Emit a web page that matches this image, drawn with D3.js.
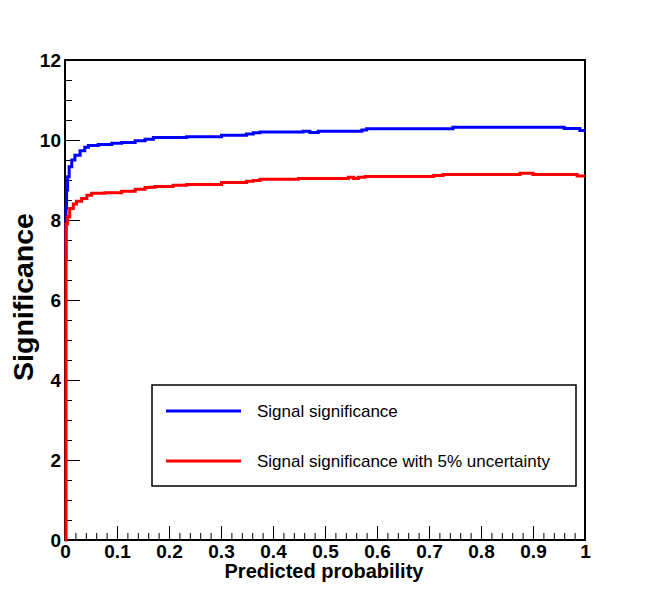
<!DOCTYPE html>
<html>
<head>
<meta charset="utf-8">
<script src="https://cdn.jsdelivr.net/npm/d3@7"></script>
<style>
  body { margin: 0; background: #fff; }
  text { font-family: "Liberation Sans", Arial, sans-serif; }
</style>
</head>
<body>
<div class="js-vis"></div>
<script>
// step levels (x = predicted probability cut, y = significance)
const blueX = [0, 0.002, 0.003, 0.005, 0.008, 0.013, 0.019, 0.029, 0.038, 0.045, 0.064, 0.090, 0.109, 0.135, 0.154, 0.170,
  0.234, 0.301, 0.349, 0.362, 0.375, 0.458, 0.471, 0.487, 0.571, 0.580, 0.746, 0.960, 0.990, 1.0]
const blueY = [7.05, 8.3, 8.75, 9.08, 9.33, 9.5, 9.62, 9.73, 9.82, 9.86, 9.89, 9.92, 9.94, 9.98, 10.02, 10.06,
  10.08, 10.12, 10.15, 10.18, 10.2, 10.22, 10.19, 10.22, 10.25, 10.28, 10.32, 10.29, 10.24, 10.24]

const redX = [0, 0.002, 0.005, 0.009, 0.016, 0.022, 0.032, 0.042, 0.051, 0.077, 0.109, 0.135, 0.154, 0.163, 0.173,
  0.208, 0.234, 0.301, 0.349, 0.362, 0.375, 0.449, 0.545, 0.555, 0.564, 0.577, 0.709, 0.727, 0.875, 0.900, 0.985, 1.0]
const redY = [0, 7.9, 8.08, 8.29, 8.4, 8.47, 8.54, 8.62, 8.67, 8.68, 8.72, 8.77, 8.81, 8.82, 8.84,
  8.87, 8.89, 8.94, 8.97, 8.99, 9.02, 9.04, 9.07, 9.04, 9.07, 9.09, 9.11, 9.14, 9.17, 9.14, 9.10, 9.10]

const legendLabels = ['Signal significance', 'Signal significance with 5% uncertainty']
const colors = ['#0000ff', '#ff0000']

const W = 650, H = 600
const margin = { top: 60, right: 65, bottom: 60, left: 65 },
    width = W - margin.left - margin.right,
    height = H - margin.top - margin.bottom

const svg = d3.select('.js-vis').append('svg')
    .attr('width', W)
    .attr('height', H)

svg.append('rect').attr('width', W).attr('height', H).attr('fill', '#fff')

const vis = svg.append('g')
    .attr('transform', 'translate(' + margin.left + ',' + margin.top + ')')

const x = d3.scaleLinear().domain([0, 1]).range([0, width])
const y = d3.scaleLinear().domain([0, 12]).range([height, 0])

// frame
vis.append('rect')
  .attr('width', width)
  .attr('height', height)
  .attr('fill', 'none')
  .attr('stroke', '#000')
  .attr('stroke-width', 2)

// minor ticks
vis.append('g')
    .attr('transform', 'translate(0,' + height + ')')
    .call(d3.axisBottom(x).tickValues(d3.range(0, 51).map(i => i / 50)).tickSize(-7).tickFormat(''))
vis.append('g')
    .call(d3.axisLeft(y).tickValues(d3.range(0, 25).map(i => i / 2)).tickSize(-7).tickFormat(''))

// major ticks + labels
const xax = d3.axisBottom(x)
    .tickValues(d3.range(0, 11).map(i => i / 10))
    .tickSize(-14).tickPadding(5)
    .tickFormat(d => d === 0 ? '0' : d === 1 ? '1' : d3.format('.1f')(d))
const yax = d3.axisLeft(y)
    .tickValues([0, 2, 4, 6, 8, 10, 12])
    .tickSize(-15).tickPadding(4)

vis.append('g').attr('transform', 'translate(0,' + height + ')').call(xax)
vis.append('g').call(yax)

vis.selectAll('.domain').remove()
vis.selectAll('.tick line').attr('stroke', '#000').attr('stroke-width', 1)
vis.selectAll('.tick text')
  .attr('fill', '#000')
  .style('font-size', '19px')
  .style('font-weight', 'bold')
  .style('font-family', '"Liberation Sans", Arial, sans-serif')

// curves
const line = d3.line()
    .x(d => x(d[0]))
    .y(d => y(d[1]))
    .curve(d3.curveStepAfter)

const series = [d3.zip(blueX, blueY), d3.zip(redX, redY)]

vis.selectAll('.curve')
  .data(series)
.enter().append('path')
  .attr('class', 'curve')
  .attr('d', line)
  .attr('fill', 'none')
  .attr('stroke', (d, i) => colors[i])
  .attr('stroke-width', 3)

// axis titles
svg.append('text')
  .attr('x', margin.left + width / 2 - 1)
  .attr('y', 578)
  .attr('text-anchor', 'middle')
  .style('font-size', '20px')
  .style('font-weight', 'bold')
  .text('Predicted probability')

svg.append('text')
  .attr('transform', 'translate(33,297) rotate(-90)')
  .attr('text-anchor', 'middle')
  .style('font-size', '28.5px')
  .style('font-weight', 'bold')
  .text('Significance')

// legend
const leg = svg.append('g')
leg.append('rect')
  .attr('x', 152).attr('y', 385)
  .attr('width', 424).attr('height', 101)
  .attr('fill', '#fff')
  .attr('stroke', '#000')
  .attr('stroke-width', 1.5)

const items = leg.selectAll('.item')
  .data(legendLabels)
.enter().append('g')
  .attr('class', 'item')
  .attr('transform', (d, i) => 'translate(0,' + (411 + i * 50) + ')')

items.append('line')
  .attr('x1', 166).attr('x2', 241)
  .attr('stroke', (d, i) => colors[i])
  .attr('stroke-width', 3)

items.append('text')
  .attr('x', 257)
  .attr('dy', '0.35em')
  .style('font-size', '17px')
  .text(String)
</script>
</body>
</html>
